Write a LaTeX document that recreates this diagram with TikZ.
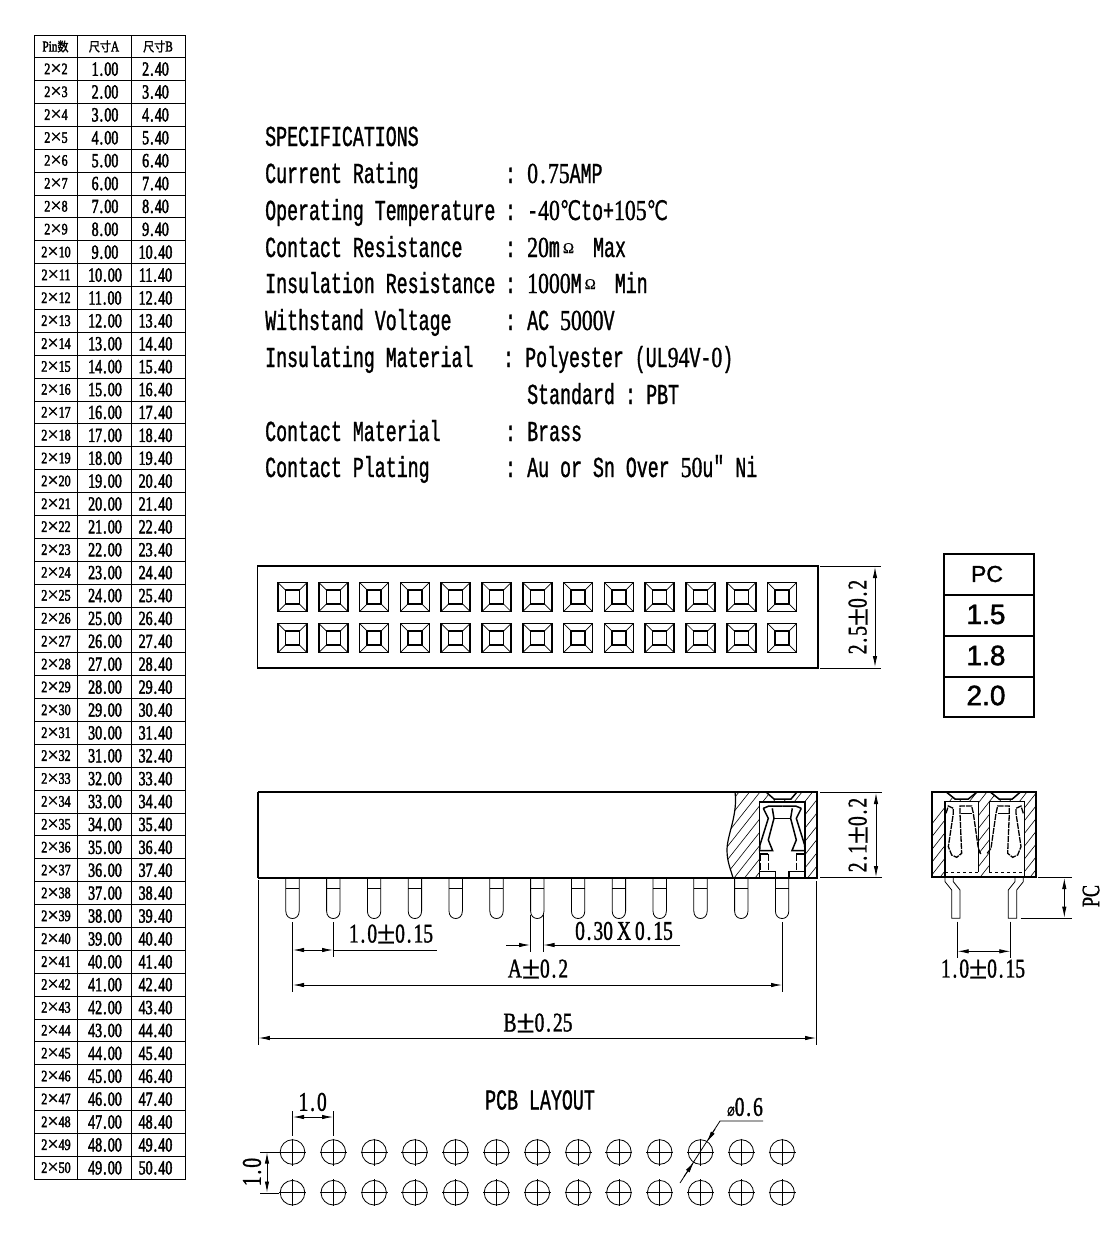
\documentclass[tikz,border=0pt]{standalone}
\usepackage{fontspec}
\usetikzlibrary{arrows.meta}
\newfontfamily\specfont[FakeStretch=0.63,FakeBold=1.0]{Liberation Mono}
\newfontfamily\specnum[FakeStretch=0.75,FakeBold=1.0]{Liberation Serif}
\newfontfamily\dimfont[FakeStretch=0.72,FakeBold=1.2]{Liberation Serif}
\newfontfamily\pmfont[FakeBold=0.8]{Liberation Serif}
\newfontfamily\tabfont[FakeStretch=0.7,FakeBold=2.2]{Liberation Serif}
\newfontfamily\smalltab[FakeStretch=0.75,FakeBold=2.2]{Liberation Serif}
\newfontfamily\cjkfont[FakeStretch=0.85,FakeBold=1.5]{Noto Sans CJK SC}
\newfontfamily\symfont[FakeStretch=0.7,FakeBold=0.5]{DejaVu Sans}
\newfontfamily\pcfont[FakeBold=1.5]{Liberation Sans}
\newcommand{\dt}{\kern1.8pt.\kern2pt}
\newcommand{\tdt}{\kern1pt.\kern1.2pt}
\newcommand{\plm}{{\pmfont\fontsize{33}{33}\selectfont\raisebox{-1pt}{±}}}
\newcommand{\N}[1]{{\specnum #1}}
\newcommand{\sdot}{{\specnum\kern2.2pt.\kern2.2pt}}
\newcommand{\degc}{{\symfont\fontsize{27}{27}\selectfont ℃}}
\newcommand{\ohm}{{\kern3pt\raisebox{4pt}{\pmfont\fontsize{15}{15}\selectfont Ω}\kern19pt}}
\tikzset{
  x=1pt,y=-1pt,
  thinl/.style={line width=0.8pt},
  midl/.style={line width=1.2pt},
  thickl/.style={line width=2pt},
  dimarrow/.style={line width=0.8pt,{Latex[length=11pt,width=4.4pt]}-{Latex[length=11pt,width=4.4pt]}},
  tip/.style={line width=0.8pt,-{Latex[length=11pt,width=4.4pt]}},
  spec/.style={inner sep=0pt,anchor=base west,font=\fontsize{29}{29}\specfont},
  dimtext/.style={inner sep=0pt,font=\fontsize{27}{27}\dimfont},
  taba/.style={inner sep=0pt,font=\fontsize{20}{20}\tabfont},
  tabs/.style={inner sep=0pt,font=\fontsize{16}{16}\smalltab},
  pctext/.style={inner sep=0pt,font=\fontsize{28}{28}\pcfont},
  hatch/.style={line width=0.6pt},
}
\newcommand{\specline}[3]{%
  \node[spec] (l#1) at (265,#1) {#2};
  \node[spec] (c#1) at (505,#1) {:};
  \node[spec] (v#1) at (527,#1) {#3};
}
\begin{document}
\begin{tikzpicture}
\useasboundingbox (0,0) rectangle (1117,1251);
\fill[white] (0,0) rectangle (1117,1251);

% ---------- table
\draw[line width=1pt] (34.3,35) rectangle (185,1179.3);
\draw[line width=1pt] (77,35) -- (77,1179.3) (131,35) -- (131,1179.3);
\draw[line width=1pt] (34.3,57.7) -- (185,57.7);
\foreach \i in {2,...,49}{
  \draw[line width=1pt] (34.3,{57.7+22.89*(\i-1)}) -- (185,{57.7+22.89*(\i-1)});
}
\node[inner sep=0pt] (h1) at (55.5,46.5) {\fontsize{15}{15}\smalltab Pin{\fontsize{13}{13}\cjkfont 数}};
\node[inner sep=0pt] (h2) at (104,46.5) {{\fontsize{13}{13}\cjkfont 尺寸}\fontsize{15}{15}\smalltab A};
\node[inner sep=0pt] (h3) at (158,46.5) {{\fontsize{13}{13}\cjkfont 尺寸}\fontsize{15}{15}\smalltab B};
\foreach \i in {2,...,50}{
  \pgfmathsetmacro\yy{57.7+22.89*(\i-2)+11.4}
  \pgfmathtruncatemacro\aa{\i-1}
  \node[tabs] (p\i) at (56,\yy) {2{\pmfont\fontsize{20}{20}\selectfont\raisebox{-0.5pt}{×}}\i};
  \node[taba] (a\i) at (105,\yy) {\aa\tdt 00};
  \node[taba] (b\i) at (155.5,\yy) {\i\tdt 40};
}

% ---------- specifications
\node[spec] (title) at (265,146) {SPECIFICATIONS};
\specline{183}{Current Rating}{\N{0}\sdot\N{75}AMP}
\specline{220}{Operating Temperature}{-\N{40}\degc to+\N{105}\degc}
\specline{257}{Contact Resistance}{\N{20}m\ohm Max}
\specline{293}{Insulation Resistance}{\N{1000}M\ohm Min}
\specline{330}{Withstand Voltage}{AC \N{5000}V}
\node[spec] (l367) at (265,367) {Insulating Material};
\node[spec] (c367) at (503,367) {:};
\node[spec] (v367) at (525,367) {Polyester (UL\N{94}V-\N{0})};
\node[spec] (v404a) at (527,404) {Standard};
\node[spec] (v404b) at (625,404) {:};
\node[spec] (v404c) at (646,404) {PBT};
\specline{441}{Contact Material}{Brass}
\specline{477}{Contact Plating}{Au or Sn Over \N{50}u{\raisebox{1pt}{"}} Ni}

% ---------- top view
\draw[midl] (257.5,566) rectangle (818,668);
\foreach \n in {0,...,12}{
  \foreach \cy in {597,638}{
    \pgfmathsetmacro\cx{292.5+40.8*\n}
    \begin{scope}[shift={(\cx,\cy)}]
      \draw[line width=0.7pt] (-14.5,-14.5) -- (-7,-7) (14.5,-14.5) -- (7,-7) (14.5,14.5) -- (7,7) (-14.5,14.5) -- (-7,7);
      \draw[line width=1.7pt] (-14.5,-14.5) rectangle (14.5,14.5);
      \draw[line width=1.5pt] (-7,-7) rectangle (7,7);
    \end{scope}
  }
}
\draw[thinl] (820,566) -- (881,566) (820,668) -- (881,668);
\draw[dimarrow] (875,567) -- (875,667);
\node[dimtext,rotate=90] (d25) at (858,617) {2\dt 5\plm 0\dt 2};

% ---------- PC table
\draw[line width=1.8pt] (944,554) rectangle (1034,717);
\draw[line width=1.4pt] (944,595) -- (1034,595) (944,636) -- (1034,636) (944,677) -- (1034,677);
\node[inner sep=0pt,font=\fontsize{23}{23}\pcfont] (pc0) at (987,574) {PC};
\node[pctext] (pc1) at (986,614.5) {1.5};
\node[pctext] (pc2) at (986,655.5) {1.8};
\node[pctext] (pc3) at (986,695.5) {2.0};

% ---------- side view: pins
\foreach \n in {0,...,12}{
  \pgfmathsetmacro\cx{292.5+40.8*\n}
  \begin{scope}[shift={(\cx,0)}]
    \draw[thinl] (-6.7,878) -- (-6.7,911) .. controls (-6.7,916) and (-3.5,918.5) .. (0,918.5) .. controls (3.5,918.5) and (6.7,916) .. (6.7,911) -- (6.7,878);
    \draw[thinl] (-6.7,888) -- (6.7,888);
  \end{scope}
}
% hatching
\begin{scope}
  \clip (735,792) .. controls (738,815) and (727,835) .. (727,850) .. controls (727,862) and (731,870) .. (733,878) -- (817,878) -- (817,792) -- cycle;
  \foreach \k in {0,...,16}{
    \draw[hatch] ({650+10.5*\k},878) -- ({718+10.5*\k},792);
  }
\end{scope}
\fill[white] (759,802) rectangle (805,878);
\fill[white] (766,792) -- (774,799) -- (791,799) -- (797,792) -- cycle;
\draw[line width=1.2pt] (735,792) .. controls (738,815) and (727,835) .. (727,850) .. controls (727,862) and (731,870) .. (733,878);
\draw[midl] (759.5,878) -- (759.5,802) -- (805,802) -- (805,878);
\draw[line width=1.5pt] (766,792) -- (774,799) -- (791,799) -- (797,792);
\foreach \s in {1,-1}{
  \begin{scope}[shift={(782.3,780)},x=.3333pt,y=-.3333pt,xscale=\s]
    \draw[line width=1.5pt] (-57,85) -- (-42,115) -- (-67,195) -- (-68,212) -- (-29,212) -- (-42,180) -- (-25,115) -- (-30,85);
    \draw[line width=1.5pt] (-57,85) -- (-40,78) -- (0,78);
    \draw[line width=1.5pt] (-25,115) -- (0,115);
    \draw[line width=1.5pt] (-68,222) -- (-42,222);
    \draw[line width=1.5pt,dash pattern=on 7pt off 1.5pt] (-42,222) -- (-42,275);
    \draw[line width=1.5pt,dash pattern=on 7pt off 1.5pt] (-66,222) -- (-66,275);
    \draw[line width=1.5pt] (-68,275) -- (-20,275) -- (-20,293);
  \end{scope}
}
\draw[thickl] (258,792) -- (817,792) -- (817,878) -- (258,878);
\draw[midl] (258,792) -- (258,878);

% ---------- side view dimensions
\draw[thinl] (820,792) -- (882,792) (820,877.5) -- (882,877.5);
\draw[dimarrow] (876,793) -- (876,877);
\node[dimtext,rotate=90] (d21) at (858,835) {2\dt 1\plm 0\dt 2};

\draw[thinl] (292.5,922) -- (292.5,992);
\draw[thinl] (333.3,922) -- (333.3,957);
\draw[thinl] (782,922) -- (782,992);
\draw[thinl] (530.3,915) -- (530.3,952) (543.4,915) -- (543.4,952);
\draw[thinl] (258.3,880) -- (258.3,1045) (816.5,881) -- (816.5,1045);

\draw[dimarrow] (293,950) -- (333,950);
\draw[thinl] (333,950) -- (437,950);
\node[dimtext] (d10) at (391,934) {1\dt 0\plm 0\dt 15};
\draw[tip] (506,945) -- (530,945);
\draw[tip] (680,945) -- (543.5,945);
\node[dimtext] (d03) at (624,931) {0\dt 30\kern4pt X\kern4pt 0\dt 15};
\draw[dimarrow] (293,985) -- (782,985);
\node[dimtext] (dA) at (538,969) {A\plm 0\dt 2};
\draw[dimarrow] (258.8,1038) -- (816,1038);
\node[dimtext] (dB) at (538,1023) {B\plm 0\dt 25};

% ---------- end view
\begin{scope}[shift={(920,780)},x=.3333pt,y=-.3333pt]
  \begin{scope}
    \clip (37,37) rectangle (347,292);
    \foreach \k in {0,...,18}{
      \draw[hatch] ({-90+30*\k},292) -- ({110+30*\k},37);
    }
  \end{scope}
  \fill[white] (75,65) rectangle (175,292);
  \fill[white] (208,65) rectangle (313,292);
  \fill[white] (80,37) -- (105,57) -- (145,57) -- (170,37) -- cycle;
  \fill[white] (212,37) -- (237,57) -- (277,57) -- (300,37) -- cycle;
  \draw[line width=1.2pt] (75,292) -- (75,65) -- (175,65) -- (175,277);
  \draw[line width=1.2pt] (208,277) -- (208,65) -- (313,65) -- (313,292);
  \draw[line width=1.5pt] (80,37) -- (105,57) -- (145,57) -- (170,37);
  \draw[line width=1.5pt] (212,37) -- (237,57) -- (277,57) -- (300,37);
  \draw[thinl,dashed] (75,277) -- (175,277) (208,277) -- (313,277);
  % contacts
  \draw[line width=1.3pt,dash pattern=on 6pt off 1pt] (78,100) -- (85,78) -- (100,85) -- (100,100) -- (85,200) -- (95,225) -- (110,232) -- (125,220) -- (120,100) -- (120,78) -- (155,78) -- (160,100) -- (175,205) -- (182,222);
  \draw[line width=1.3pt] (122,100) -- (155,100);
  \draw[line width=1.3pt,dash pattern=on 6pt off 1pt] (310,100) -- (303,78) -- (288,85) -- (288,100) -- (303,200) -- (293,225) -- (278,232) -- (263,220) -- (268,100) -- (268,78) -- (233,78) -- (228,100) -- (213,205) -- (200,222);
  \draw[line width=1.3pt] (266,100) -- (233,100);
  \draw[line width=2pt] (37,37) rectangle (347,292);
  % pins
  \draw[thinl] (75,292) -- (75,305) -- (95,330) -- (95,415) -- (120,415) -- (120,330) -- (100,305) -- (100,292);
  \draw[thinl] (310,292) -- (310,305) -- (290,330) -- (290,415) -- (265,415) -- (265,330) -- (285,305) -- (285,292);
  % dims
  \draw[thinl] (355,292) -- (455,292) (302,415) -- (455,415);
  \draw[dimarrow] (433,294) -- (433,413);
  \draw[thinl] (112,425) -- (112,535) (272,425) -- (272,535);
  \draw[dimarrow] (113,514) -- (271,514);
\end{scope}
\node[dimtext] (d10b) at (983,969) {1\dt 0\plm 0\dt 15};
\node[inner sep=0pt,rotate=90,font=\fontsize{25}{25}\dimfont] (dpc) at (1091,896) {PC};

% ---------- PCB layout
\node[inner sep=0pt,font=\fontsize{29}{29}\specfont] (pcb) at (540,1100) {PCB LAYOUT};
\foreach \n in {0,...,12}{
  \foreach \cy in {1152,1192.7}{
    \pgfmathsetmacro\cx{292.5+40.8*\n}
    \begin{scope}[shift={(\cx,\cy)}]
      \draw[thinl] (0,0) circle (12.3pt);
      \draw[thinl] (-13.5,0) -- (13.5,0) (0,-13.5) -- (0,13.5);
    \end{scope}
  }
}
\draw[thinl] (292.5,1111) -- (292.5,1136) (333.3,1111) -- (333.3,1136);
\draw[dimarrow] (293,1117) -- (333,1117);
\node[dimtext] (d1h) at (312.7,1102) {1\dt 0};
\draw[thinl] (260,1152) -- (279,1152) (260,1193) -- (279,1193);
\draw[dimarrow] (267,1152.5) -- (267,1192.5);
\node[dimtext,rotate=90] (d1v) at (252,1172) {1\dt 0};
\draw[thinl] (763,1121) -- (720,1121) -- (680,1183);
\draw[tip] (715,1129) -- (707,1142);
\draw[tip] (684,1176.5) -- (694,1162);
\node[dimtext] (dphi) at (745,1107) {{\symfont\fontsize{18}{18}\selectfont ⌀}0\dt 6};
\end{tikzpicture}
\end{document}
